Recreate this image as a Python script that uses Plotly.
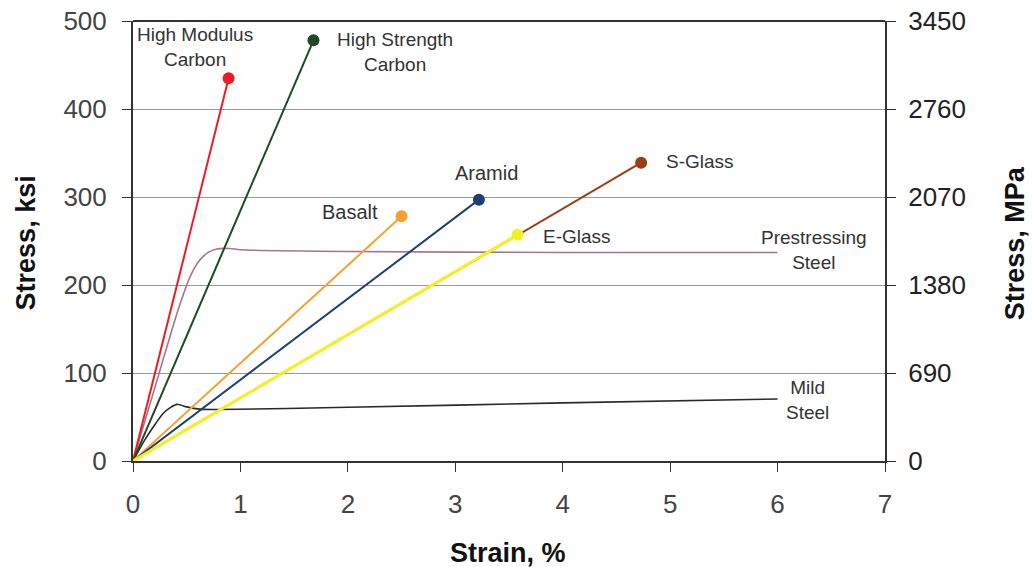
import plotly.graph_objects as go

# Fibre materials: linear to failure (strain %, stress ksi)
fiber_names = ["S-Glass", "High Modulus Carbon", "High Strength Carbon", "Basalt", "Aramid", "E-Glass"]
fiber_strain = [4.73, 0.89, 1.68, 2.50, 3.22, 3.58]
fiber_stress = [339, 435, 478, 278, 297, 257]
fiber_colors = ["#9a3f12", "#ee1c24", "#1f4a24", "#f7a130", "#1f3f6e", "#f5f020"]
fiber_widths = [2, 2, 2, 2, 2, 3]

# Steels: curves
pre_strain = [0, 0.2, 0.41, 0.53, 0.62, 0.70, 0.78, 0.9, 1.0, 2.0, 4.0, 6.0]
pre_stress = [0, 82, 168, 209, 228, 237, 241, 241.5, 240, 238, 237, 237]
mild_strain = [0, 0.1, 0.19, 0.28, 0.35, 0.41, 0.5, 0.62, 0.8, 2.0, 4.0, 6.0]
mild_stress = [0, 22, 39, 54, 61, 64.4, 61.5, 59, 58.5, 61, 66, 70.5]

ksi_ticks = [0, 100, 200, 300, 400, 500]
mpa_ticks = [0, 690, 1380, 2070, 2760, 3450]
x_ticks = [0, 1, 2, 3, 4, 5, 6, 7]

FONT = "Liberation Sans, Arial, sans-serif"

fig = go.Figure()

fig.add_trace(go.Scatter(x=pre_strain, y=pre_stress, mode="lines",
                         line=dict(color="#a8748c", width=1.6, shape="spline", smoothing=0.6),
                         showlegend=False, hoverinfo="skip"))
fig.add_trace(go.Scatter(x=mild_strain, y=mild_stress, mode="lines",
                         line=dict(color="#2a2a2a", width=1.6, shape="spline", smoothing=0.6),
                         showlegend=False, hoverinfo="skip"))

for n, sx, sy, c, w in zip(fiber_names, fiber_strain, fiber_stress, fiber_colors, fiber_widths):
    fig.add_trace(go.Scatter(x=[0, sx], y=[0, sy], mode="lines",
                             line=dict(color=c, width=w), showlegend=False, name=n))
    fig.add_trace(go.Scatter(x=[sx], y=[sy], mode="markers",
                             marker=dict(color=c, size=12), showlegend=False, name=n))

# invisible trace for the right axis
fig.add_trace(go.Scatter(x=[0], y=[0], yaxis="y2", mode="markers",
                         marker=dict(opacity=0), showlegend=False, hoverinfo="skip"))

lab_font = dict(family=FONT, size=19, color="#333333")
big_font = dict(family=FONT, size=20, color="#333333")
labels = [
    ("High Modulus<br>Carbon", 0.58, 470, lab_font),
    ("High Strength<br>Carbon", 2.44, 465, lab_font),
    ("Basalt", 2.02, 283, big_font),
    ("Aramid", 3.29, 327, big_font),
    ("S-Glass", 5.28, 340, lab_font),
    ("E-Glass", 4.13, 255, lab_font),
    ("Prestressing<br>Steel", 6.34, 240, lab_font),
    ("Mild<br>Steel", 6.28, 69, lab_font),
]
for t, x, y, f in labels:
    fig.add_annotation(x=x, y=y, text=t, showarrow=False, font=f, align="center")

title_font = dict(family=FONT, size=27, color="#111111")
fig.add_annotation(xref="paper", yref="paper", x=-0.142, y=0.495, text="<b>Stress, ksi</b>",
                   textangle=-90, showarrow=False, font=title_font, xanchor="center", yanchor="middle")
fig.add_annotation(xref="paper", yref="paper", x=1.173, y=0.495, text="<b>Stress, MPa</b>",
                   textangle=-90, showarrow=False, font=title_font, xanchor="center", yanchor="middle")
fig.add_annotation(xref="paper", yref="paper", x=0.499, y=-0.209, text="<b>Strain, %</b>",
                   showarrow=False, font=title_font, xanchor="center", yanchor="middle")

tick_font = dict(family=FONT, size=26, color="#444444")
fig.update_layout(
    width=1034, height=567,
    margin=dict(l=133, r=149, t=21, b=106, autoexpand=False),
    paper_bgcolor="white", plot_bgcolor="white",
    xaxis=dict(range=[0, 7], tickvals=x_ticks, showgrid=False, zeroline=False,
               showline=True, linecolor="#333333", linewidth=2, ticks="outside",
               ticklen=9, tickcolor="#333333", tickfont=tick_font, ticklabelstandoff=10,
               ticklabeloverflow="allow", automargin=False),
    yaxis=dict(range=[0, 500], tickvals=ksi_ticks, showgrid=True, gridcolor="#999999",
               gridwidth=1, zeroline=False, showline=True, linecolor="#333333", linewidth=2,
               ticks="outside", ticklen=9, tickcolor="#333333", tickfont=tick_font,
               ticklabelstandoff=10, ticklabeloverflow="allow", automargin=False),
    yaxis2=dict(range=[0, 3450], tickvals=mpa_ticks, overlaying="y", side="right",
                showgrid=False, zeroline=False, showline=True, linecolor="#333333",
                linewidth=2, ticks="outside", ticklen=9, tickcolor="#333333",
                tickfont=dict(family=FONT, size=26, color="#222222"), ticklabelstandoff=7,
                ticklabeloverflow="allow", automargin=False),
)
# top frame
fig.add_shape(type="line", xref="paper", yref="paper", x0=0, x1=1, y0=1, y1=1,
              line=dict(color="#333333", width=2))

fig.write_html("out.html", config={"displayModeBar": False},
               post_script="document.body.style.margin='0';")
